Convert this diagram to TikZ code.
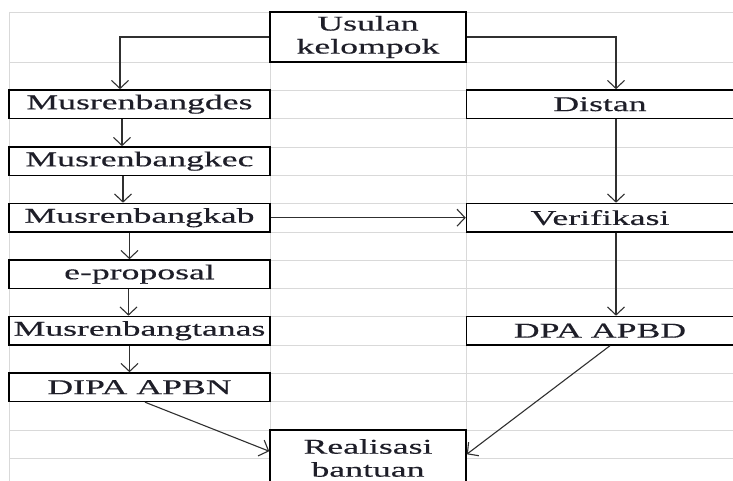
\documentclass[tikz,border=0pt]{standalone}
\usepackage{fontspec}
\setmainfont{Liberation Serif}[FakeStretch=1.7, FakeBold=0.4]
\usetikzlibrary{arrows.meta,calc}
\definecolor{gridc}{HTML}{D9D9D9}
\definecolor{txtc}{HTML}{1E1E28}
\definecolor{linec}{HTML}{303030}
\tikzset{
  gridline/.style={draw=gridc, line width=0.9pt},
  box/.style={draw=black, line width=1.5pt, fill=white, inner sep=0pt, text=txtc,
    font=\fontsize{21}{23}\selectfont},
  lbox/.style={box, minimum width=261pt, minimum height=28.5pt},
  rbox/.style={box, minimum width=267pt, minimum height=28.5pt},
  cbox/.style={box, minimum width=196pt, align=center},
  conn/.style={draw=linec, line width=1.1pt, -{Straight Barb[length=8pt,width=17pt]}}
}
\begin{document}
\begin{tikzpicture}[x=1pt, y=-1pt]
\useasboundingbox (0,0) rectangle (733,481);
\fill[white] (0,0) rectangle (733,481);
% spreadsheet grid
\foreach \yy in {12,62,90,118.5,147,175.5,203.5,232,260,288.5,316.5,345,373,401.5,430,458.5}
  \draw[gridline] (9,\yy) -- (733,\yy);
\foreach \xx in {9,270,466}
  \draw[gridline] (\xx,12) -- (\xx,481);
% nodes
\node[cbox, minimum height=50pt] (usul) at (368,37) {Usulan\\kelompok};
\node[lbox] (des) at (139.5,104.2) {Musrenbangdes};
\node[lbox] (kec) at (139.5,161.2) {Musrenbangkec};
\node[lbox] (kab) at (139.5,217.7) {Musrenbangkab};
\node[lbox] (epro) at (139.5,274.2) {e-proposal};
\node[lbox] (tanas) at (139.5,330.7) {Musrenbangtanas};
\node[lbox] (dipa) at (139.5,387.2) {DIPA APBN};
\node[rbox] (dist) at (600,104.2) {Distan};
\node[rbox] (ver) at (600,217.7) {Verifikasi};
\node[rbox] (dpa) at (600,330.7) {DPA APBD};
\node[cbox, minimum height=56pt] (real) at (368,458) {Realisasi\\bantuan};
% connectors
\draw[conn] (usul.west) -| ($(des.north)+(-19.5,0)$);
\draw[conn] (usul.east) -| ($(dist.north)+(16,0)$);
\draw[conn] ($(des.south)+(-17.5,0)$) -- ($(kec.north)+(-17.5,0)$);
\draw[conn] ($(kec.south)+(-16.5,0)$) -- ($(kab.north)+(-16.5,0)$);
\draw[conn] ($(kab.south)+(-10,0)$) -- ($(epro.north)+(-10,0)$);
\draw[conn] ($(epro.south)+(-11,0)$) -- ($(tanas.north)+(-11,0)$);
\draw[conn] ($(tanas.south)+(-10,0)$) -- ($(dipa.north)+(-10,0)$);
\draw[conn] (kab.east) -- (ver.west);
\draw[conn] ($(dist.south)+(16,0)$) -- ($(ver.north)+(16,0)$);
\draw[conn] ($(ver.south)+(16,0)$) -- ($(dpa.north)+(16,0)$);
\draw[conn] ($(dipa.south)+(5.5,0)$) -- ($(real.north west)+(0,22)$);
\draw[conn] ($(dpa.south)+(10,0)$) -- ($(real.north east)+(0,25)$);
\end{tikzpicture}
\end{document}
